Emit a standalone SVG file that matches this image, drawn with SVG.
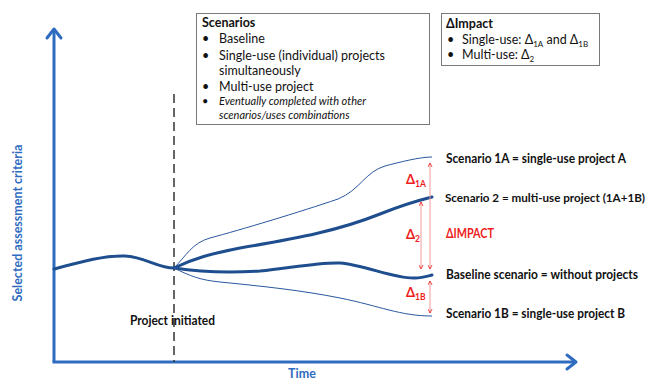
<svg xmlns="http://www.w3.org/2000/svg" width="651" height="382" viewBox="0 0 651 382">
  <style>
    text { font-family: Lato, "Liberation Sans", sans-serif; fill: #111; }
    .b { font-weight: bold; }
    .box { fill: #fff; stroke: #7a7a7a; stroke-width: 1; }
    .t { font-size: 12.5px; }
    .i { font-size: 11px; font-style: italic; }
    .lbl { font-size: 12.5px; font-weight: bold; }
    .red { fill: #ee1c1c; font-weight: bold; }
    .axis { stroke: #2f6cc0; stroke-width: 3; fill: none; }
    .head { stroke: #2f6cc0; stroke-width: 3; fill: none; stroke-linecap: round; stroke-linejoin: round; }
    .thick { stroke: #1f4e8f; stroke-width: 3; fill: none; stroke-linecap: round; }
    .thin { stroke: #2a57a0; stroke-width: 1; fill: none; }
    .delta { stroke: #f19a9a; stroke-width: 1; fill: none; }
    .dash { stroke: #333; stroke-width: 1.5; stroke-dasharray: 9 5; fill: none; }
    .blue { fill: #2f6cc0; font-weight: bold; }
  </style>
  <defs>
    <marker id="rh" viewBox="0 0 10 10" refX="9" refY="5" markerWidth="5" markerHeight="5" orient="auto-start-reverse" markerUnits="userSpaceOnUse">
      <path d="M1,1 L9,5 L1,9" fill="none" stroke="#e51d1d" stroke-width="1.6"/>
    </marker>
  </defs>

  <!-- axes -->
  <g id="axes">
    <path class="axis" d="M54,362 L54,30"/>
    <path class="head" d="M47,38 L54,29 L61,38"/>
    <path class="axis" d="M52.5,362 L575,362"/>
    <path class="head" d="M567,355 L576,362 L567,369"/>
    <text class="blue" font-size="12.5" transform="translate(22,223) rotate(-90)" text-anchor="middle">Selected assessment criteria</text>
    <text class="blue" font-size="12.5" x="302" y="378" text-anchor="middle">Time</text>
  </g>

  <!-- project start marker -->
  <g id="project-initiated">
    <path class="dash" d="M174,94 L174,362"/>
    <text class="lbl" x="130" y="325" textLength="85" lengthAdjust="spacingAndGlyphs">Project initiated</text>
  </g>

  <!-- scenario trajectories -->
  <g id="connectors">
    <path class="thick" d="M54,269 C80,262 105,255 125,256 C145,257 158,268 174,268"/>
    <path id="s1a" class="thin" d="M174,268 C186,256 192,243 210,238 C240,230 300,212 338,199 C360,190 365,172 385,166 C400,162 420,157 432,157"/>
    <path id="s2" class="thick" d="M174,268 C195,258 210,254 240,248 C300,238 340,230 380,214 C400,206 420,200 432,197"/>
    <path id="sbase" class="thick" d="M174,268 C200,272 230,273 260,271 C290,268 320,262 340,263 C365,265 395,279 415,278 C422,278 428,276 432,275"/>
    <path id="s1b" class="thin" d="M174,268 C190,276 200,280 220,282 C260,286 300,290 340,298 C380,306 400,316 432,316"/>

    <!-- difference arrows -->
    <path class="delta" d="M430,163 L430,269" marker-start="url(#rh)" marker-end="url(#rh)"/>
    <path class="delta" d="M421,202 L421,269" marker-start="url(#rh)" marker-end="url(#rh)"/>
    <path class="delta" d="M430,281 L430,313" marker-start="url(#rh)" marker-end="url(#rh)"/>
  </g>

  <!-- delta labels -->
  <g id="delta-labels">
    <text class="red" font-size="13" x="406" y="184">Δ<tspan font-size="8.5" dy="3">1A</tspan></text>
    <text class="red" font-size="13" x="406" y="239">Δ<tspan font-size="8.5" dy="3">2</tspan></text>
    <text class="red" font-size="13" x="406" y="297">Δ<tspan font-size="8.5" dy="3">1B</tspan></text>
  </g>

  <!-- scenario labels -->
  <g id="label-1a"><text class="lbl" x="446" y="163" textLength="180" lengthAdjust="spacingAndGlyphs">Scenario 1A = single-use project A</text></g>
  <g id="label-2"><text class="lbl" x="445" y="202" font-size="11.6" style="font-size:11.6px" textLength="200" lengthAdjust="spacingAndGlyphs">Scenario 2 = multi-use project (1A+1B)</text></g>
  <g id="label-impact"><text class="red" font-size="12.5" x="446" y="238" textLength="48" lengthAdjust="spacingAndGlyphs">ΔIMPACT</text></g>
  <g id="label-base"><text class="lbl" x="446" y="279" textLength="192" lengthAdjust="spacingAndGlyphs">Baseline scenario = without projects</text></g>
  <g id="label-1b"><text class="lbl" x="446" y="318" textLength="179" lengthAdjust="spacingAndGlyphs">Scenario 1B = single-use project B</text></g>

  <!-- scenarios legend -->
  <g id="scenarios-box">
    <rect class="box" x="196.5" y="13.5" width="233" height="111"/>
    <text class="t b" x="202" y="27">Scenarios</text>
    <text class="t" x="202" y="43">•</text><text class="t" x="219" y="43">Baseline</text>
    <text class="t" x="202" y="60">•</text><text class="t" x="219" y="60">Single-use (individual) projects</text>
    <text class="t" x="219" y="75">simultaneously</text>
    <text class="t" x="202" y="91">•</text><text class="t" x="219" y="91">Multi-use project</text>
    <text x="202" y="105" font-size="11">•</text><text class="i" x="219" y="105">Eventually completed with other</text>
    <text class="i" x="219" y="119">scenarios/uses combinations</text>
  </g>

  <!-- impact legend -->
  <g id="impact-box">
    <rect class="box" x="441.5" y="13.5" width="158" height="52"/>
    <text class="t b" x="446" y="28">ΔImpact</text>
    <text class="t" x="447" y="44">•</text><text class="t" x="462" y="44">Single-use: Δ<tspan font-size="8" dy="3">1A</tspan><tspan dy="-3"> and Δ</tspan><tspan font-size="8" dy="3">1B</tspan></text>
    <text class="t" x="447" y="59">•</text><text class="t" x="462" y="59">Multi-use: Δ<tspan font-size="8" dy="3">2</tspan></text>
  </g>
</svg>
